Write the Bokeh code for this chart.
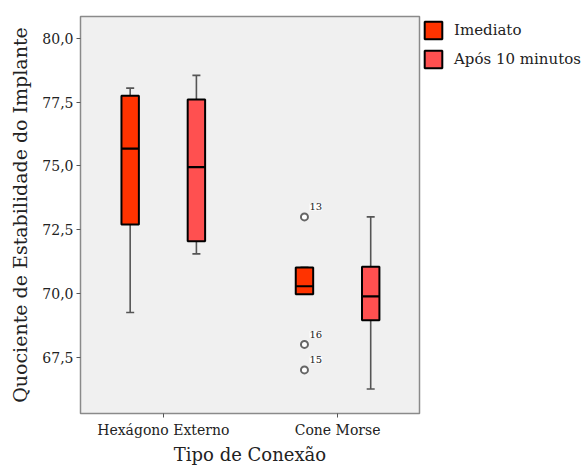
from bokeh.plotting import figure
from bokeh.models import ColumnDataSource, Legend, LegendItem, FixedTicker, CustomJSTickFormatter, Range1d
from bokeh.embed import file_html
from bokeh.resources import INLINE
from bokeh.core.properties import value

groups = ["Hexágono Externo", "Cone Morse"]
series = ["Imediato", "Após 10 minutos"]
colors = ["#ff3300", "#ff5050"]

# per series, per group
whisker_low = {"Imediato": [69.25, 70.0], "Após 10 minutos": [71.55, 66.25]}
q1 = {"Imediato": [72.7, 69.97], "Após 10 minutos": [72.05, 68.95]}
median = {"Imediato": [75.68, 70.28], "Após 10 minutos": [74.95, 69.88]}
q3 = {"Imediato": [77.75, 71.02], "Após 10 minutos": [77.6, 71.05]}
whisker_high = {"Imediato": [78.05, 71.02], "Após 10 minutos": [78.55, 73.0]}

outlier_group = ["Cone Morse", "Cone Morse", "Cone Morse"]
outlier_series = ["Imediato", "Imediato", "Imediato"]
outlier_values = [73.0, 68.0, 67.0]
outlier_labels = ["13", "16", "15"]

y_ticks = [67.5, 70.0, 72.5, 75.0, 77.5, 80.0]

SERIF = "DejaVu Serif"
offsets = {"Imediato": -0.19, "Após 10 minutos": 0.19}
box_w = 0.1
cap_w = 0.046

p = figure(frame_width=339, frame_height=397,
           x_range=Range1d(0.525, 2.47), y_range=Range1d(65.29, 80.86),
           output_backend="svg", toolbar_location=None,
           min_border_left=80, min_border_top=16, min_border_right=4, min_border_bottom=10,
           background_fill_color="#f0f0f0", border_fill_color="white",
           outline_line_color="#8a8a8a", outline_line_width=1.5)
p.xgrid.visible = False
p.ygrid.visible = False

renderers = []
for si, s in enumerate(series):
    xs = [gi + 1 + offsets[s] for gi in range(len(groups))]
    src = ColumnDataSource(dict(
        x=xs, x0=[x - box_w / 2 for x in xs], x1=[x + box_w / 2 for x in xs],
        c0=[x - cap_w / 2 for x in xs], c1=[x + cap_w / 2 for x in xs],
        wl=whisker_low[s], q1=q1[s], med=median[s], q3=q3[s], wh=whisker_high[s]))
    p.segment(x0="x", y0="q3", x1="x", y1="wh", source=src, line_color="#555555", line_width=1.6)
    p.segment(x0="x", y0="q1", x1="x", y1="wl", source=src, line_color="#555555", line_width=1.6)
    p.segment(x0="c0", y0="wh", x1="c1", y1="wh", source=src, line_color="#555555", line_width=1.6)
    p.segment(x0="c0", y0="wl", x1="c1", y1="wl", source=src, line_color="#555555", line_width=1.6)
    r = p.vbar(x="x", width=box_w, bottom="q1", top="q3", source=src,
               fill_color=colors[si], line_color="black", line_width=2)
    p.segment(x0="x0", y0="med", x1="x1", y1="med", source=src, line_color="black", line_width=2.2)
    renderers.append(r)

ox = [groups.index(g) + 1 + offsets[s] for g, s in zip(outlier_group, outlier_series)]
osrc = ColumnDataSource(dict(x=ox, y=outlier_values, lab=outlier_labels))
p.text(x="x", y="y", text="lab", source=osrc, x_offset=5, y_offset=-10,
       text_font=value(SERIF), text_font_size="10px", text_color="#222222",
       text_baseline="middle", text_align="left",
       background_fill_color="white", background_fill_alpha=0.9)
p.scatter(x="x", y="y", source=osrc, marker="circle", size=7,
          fill_color="white", line_color="#666666", line_width=2)

p.yaxis.ticker = FixedTicker(ticks=y_ticks)
p.yaxis.formatter = CustomJSTickFormatter(code="return tick.toFixed(1).replace('.', ',');")
p.xaxis.ticker = FixedTicker(ticks=[1, 2])
p.xaxis.major_label_overrides = {1: groups[0], 2: groups[1]}

for ax in (p.xaxis[0], p.yaxis[0]):
    ax.axis_line_color = None
    ax.major_tick_line_color = "#555555"
    ax.major_tick_in = 0
    ax.major_tick_out = 4
    ax.minor_tick_line_color = None
    ax.major_label_text_font = SERIF
    ax.major_label_text_font_size = "14px"
    ax.major_label_text_color = "#222222"
    ax.axis_label_text_font = SERIF
    ax.axis_label_text_font_style = "normal"
    ax.axis_label_text_color = "#222222"

p.yaxis.axis_label_text_font_size = "19px"
p.xaxis.axis_label_text_font_size = "18px"
p.yaxis.axis_label = "Quociente de Estabilidade do Implante"
p.xaxis.axis_label = "Tipo de Conexão"
p.yaxis.major_label_standoff = 3
p.xaxis.major_label_standoff = 4
p.xaxis.axis_label_standoff = 3
p.yaxis.axis_label_standoff = 8

legend = Legend(items=[LegendItem(label=s, renderers=[r]) for s, r in zip(series, renderers)],
                location="top_left", glyph_width=22, glyph_height=22, label_height=22,
                spacing=7, padding=0, margin=3, label_standoff=10,
                label_text_font=SERIF, label_text_font_size="15px", label_text_color="#222222",
                border_line_color=None, background_fill_alpha=0)
p.add_layout(legend, "right")

open("out.html", "w").write(file_html(p, INLINE))
